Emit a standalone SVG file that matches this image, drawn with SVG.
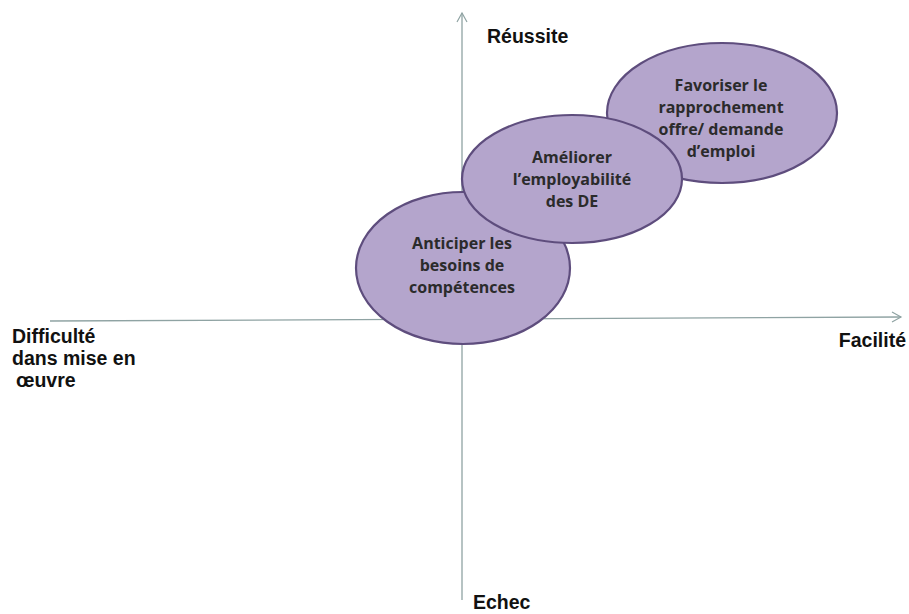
<svg xmlns="http://www.w3.org/2000/svg" width="909" height="614" viewBox="0 0 909 614">
  <style>
    .axis { stroke: #8fa3a3; stroke-width: 1.3; fill: none; }
    .head { stroke: #8fa3a3; stroke-width: 1.2; fill: none; }
    .bubble { fill: #b4a5cc; stroke: #5e4d7d; stroke-width: 2.2; }
    .blabel { font-family: "Open Sans", "Noto Sans", sans-serif; font-weight: 700; font-size: 16px; fill: #2b2b2b; text-anchor: middle; }
    .alabel { font-family: "Liberation Sans", Arial, sans-serif; font-weight: bold; font-size: 19.5px; fill: #111; }
  </style>
  <rect width="909" height="614" fill="#ffffff"/>

  <!-- axes -->
  <g id="connectors">
    <line class="axis" x1="462" y1="600" x2="462" y2="13"/>
    <polyline class="head" points="457,22 462,13 467,22"/>
    <line class="axis" x1="50" y1="321" x2="901" y2="317"/>
    <polyline class="head" points="892,312 901,317 892,322"/>
  </g>

  <!-- axis labels -->
  <g id="label-reussite"><text class="alabel" x="487" y="43">Réussite</text></g>
  <g id="label-echec"><text class="alabel" x="473" y="609">Echec</text></g>
  <g id="label-facilite"><text class="alabel" x="906" y="347" text-anchor="end">Facilité</text></g>
  <g id="label-difficulte">
    <text class="alabel" x="12" y="343">Difficulté</text>
    <text class="alabel" x="12" y="365">dans mise en</text>
    <text class="alabel" x="16" y="387">œuvre</text>
  </g>

  <!-- bubbles -->
  <g id="node-anticiper">
    <ellipse class="bubble" cx="463" cy="268" rx="107" ry="76"/>
    <text class="blabel" x="462" y="249">Anticiper les</text>
    <text class="blabel" x="462" y="271">besoins de</text>
    <text class="blabel" x="462" y="293">compétences</text>
  </g>
  <g id="node-favoriser">
    <ellipse class="bubble" cx="722" cy="113" rx="115" ry="70"/>
    <text class="blabel" x="721" y="91">Favoriser  le</text>
    <text class="blabel" x="721" y="113">rapprochement</text>
    <text class="blabel" x="721" y="135">offre/ demande</text>
    <text class="blabel" x="721" y="157">d’emploi</text>
  </g>
  <g id="node-ameliorer">
    <ellipse class="bubble" cx="572" cy="179" rx="110" ry="64"/>
    <text class="blabel" x="572" y="163">Améliorer</text>
    <text class="blabel" x="572" y="185">l’employabilité</text>
    <text class="blabel" x="572" y="207">des DE</text>
  </g>
</svg>
